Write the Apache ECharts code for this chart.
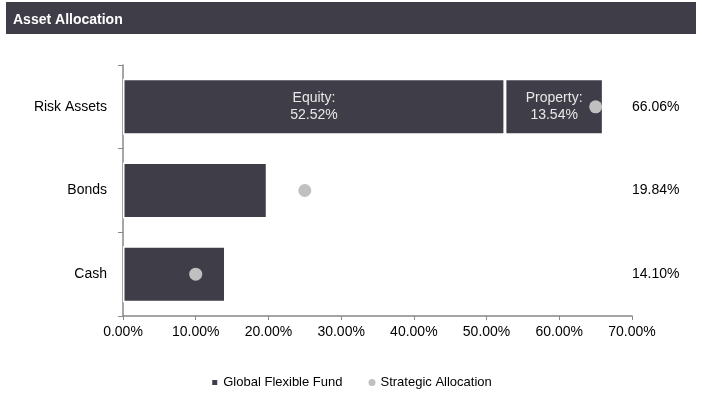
<!DOCTYPE html>
<html>
<head>
<meta charset="utf-8">
<script src="https://cdn.jsdelivr.net/npm/echarts@6/dist/echarts.min.js"></script>
<style>
  html, body { margin: 0; padding: 0; background: #fff; }
  #chart { width: 702px; height: 406px; }
</style>
</head>
<body>
<div id="chart"></div>
<script>
const categories = ['Risk Assets', 'Bonds', 'Cash'];
const fundMain = [52.52, 19.84, 14.10];      // Equity / Bonds / Cash
const fundProperty = [13.54, '-', '-'];      // Property, only in Risk Assets
const segmentNames = ['Equity', 'Property'];
const fundTotals = ['66.06%', '19.84%', '14.10%'];
const strategic = [65, 25, 10];
const xMin = 0, xMax = 70, xStep = 10;

const font = "'Liberation Sans Narrow', 'Arial Narrow', 'Liberation Sans', Arial, sans-serif";
const dark = '#3f3e48';

const chart = echarts.init(document.getElementById('chart'));

const option = {
  animation: false,
  textStyle: { fontFamily: font },
  graphic: [
    {
      type: 'rect',
      shape: { x: 6, y: 2, width: 690, height: 32 },
      style: { fill: dark }
    }
  ],
  title: {
    text: 'Asset Allocation',
    left: 8,
    top: 8,
    textStyle: { color: '#fff', fontSize: 14, fontWeight: 'bold', fontFamily: font }
  },
  legend: {
    bottom: 12,
    itemGap: 26,
    itemWidth: 7,
    itemHeight: 7,
    textStyle: { fontSize: 13, color: '#000', fontFamily: font },
    data: [
      { name: 'Global Flexible Fund', icon: 'rect' },
      { name: 'Strategic Allocation', icon: 'circle' }
    ]
  },
  grid: { left: 123, right: 70, top: 65, bottom: 90 },
  xAxis: {
    type: 'value',
    min: xMin,
    max: xMax,
    interval: xStep,
    axisLine: { show: true, lineStyle: { color: '#888', width: 1.5 } },
    axisTick: { show: true, length: 4, lineStyle: { color: '#888' } },
    splitLine: { show: false },
    axisLabel: {
      margin: 9,
      fontSize: 14,
      color: '#000',
      fontFamily: font,
      formatter: v => v.toFixed(2) + '%'
    }
  },
  yAxis: [
    {
      type: 'category',
      data: categories,
      inverse: true,
      axisLine: { show: true, lineStyle: { color: '#888', width: 1.5 } },
      axisTick: { show: true, length: 5, lineStyle: { color: '#888' } },
      axisLabel: { margin: 16, fontSize: 14, color: '#000', fontFamily: font }
    },
    {
      type: 'category',
      data: categories,
      inverse: true,
      position: 'right',
      axisLine: { show: false },
      axisTick: { show: false },
      axisLabel: {
        margin: 0,
        fontSize: 14,
        color: '#000',
        fontFamily: font,
        formatter: (v, i) => fundTotals[i]
      }
    }
  ],
  series: [
    {
      name: 'Global Flexible Fund',
      type: 'bar',
      stack: 'fund',
      barWidth: '67%',
      data: fundMain,
      itemStyle: { color: dark, borderColor: '#fff', borderWidth: 1.5 },
      label: {
        show: true,
        position: 'inside',
        color: '#e8e8e8',
        fontSize: 14,
        lineHeight: 17,
        fontFamily: font,
        formatter: p => p.dataIndex === 0 ? segmentNames[0] + ':\n' + p.value.toFixed(2) + '%' : ''
      }
    },
    {
      name: 'Global Flexible Fund',
      type: 'bar',
      stack: 'fund',
      barWidth: '67%',
      data: fundProperty,
      itemStyle: { color: dark, borderColor: '#fff', borderWidth: 1.5 },
      label: {
        show: true,
        position: 'inside',
        color: '#e8e8e8',
        fontSize: 14,
        lineHeight: 17,
        fontFamily: font,
        formatter: p => segmentNames[1] + ':\n' + p.value.toFixed(2) + '%'
      }
    },
    {
      name: 'Strategic Allocation',
      type: 'scatter',
      symbol: 'circle',
      symbolSize: 13,
      z: 5,
      itemStyle: { color: '#c0c0c0', opacity: 1 },
      data: strategic.map((v, i) => [v, categories[i]])
    }
  ]
};

chart.setOption(option);
</script>
</body>
</html>
